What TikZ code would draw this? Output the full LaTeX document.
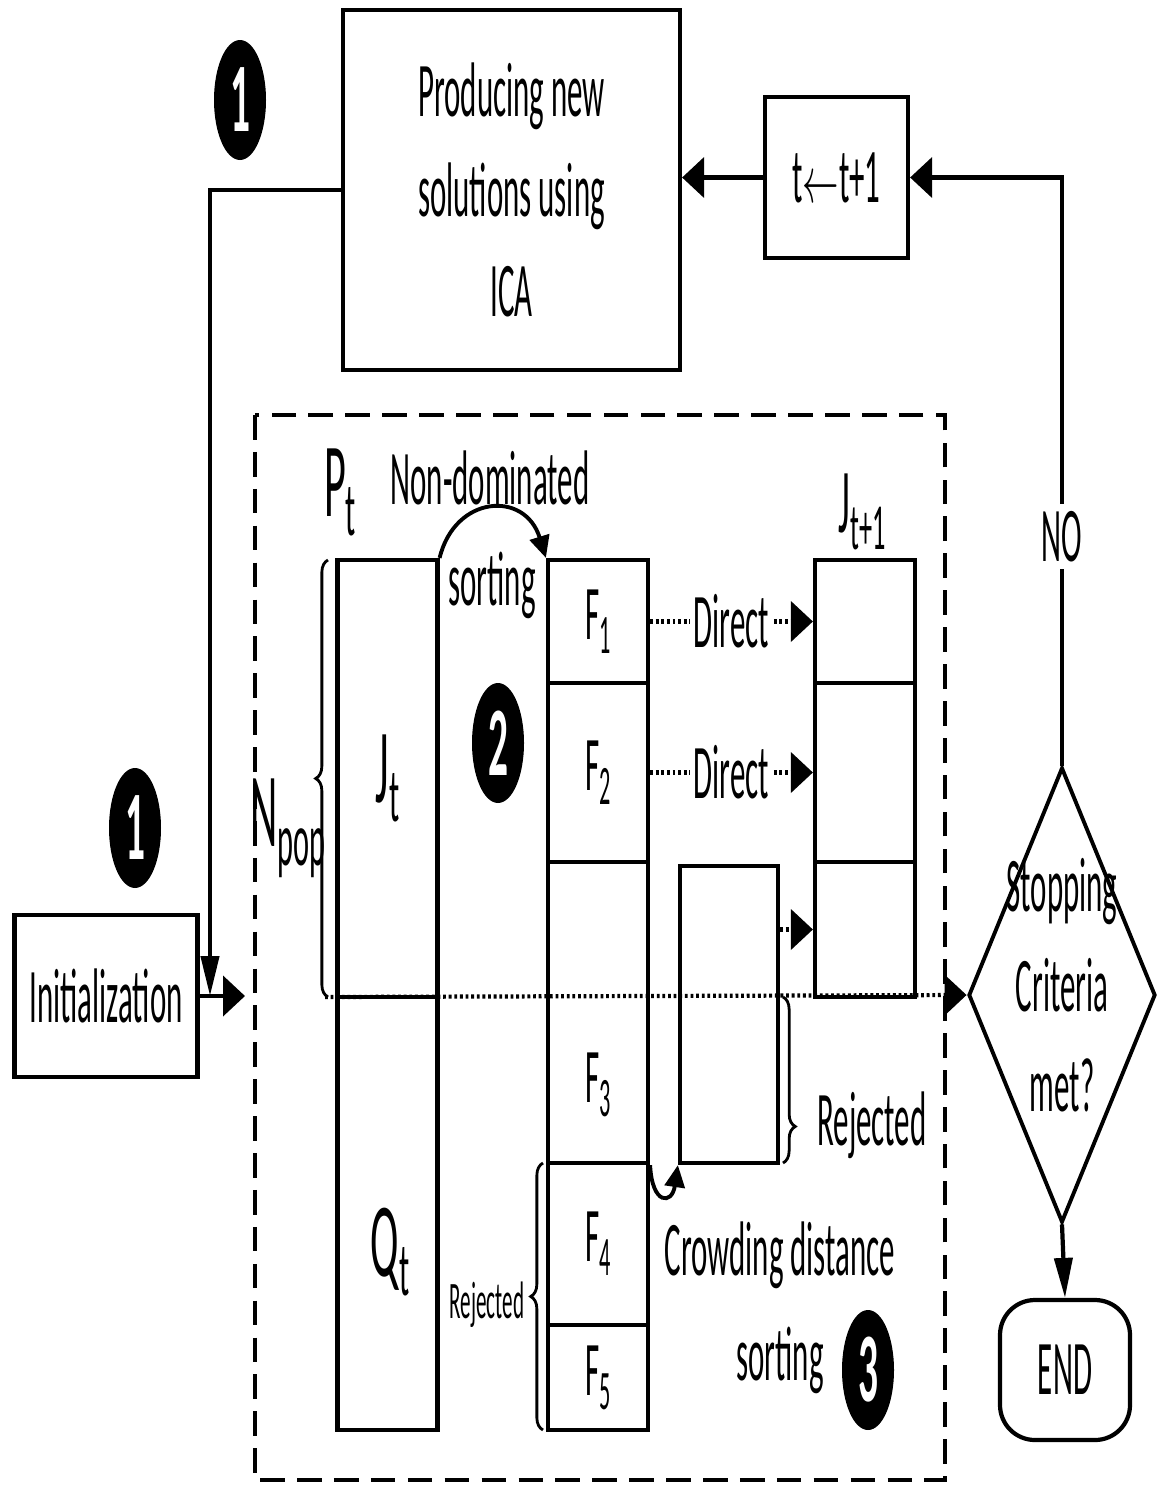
\documentclass[tikz,border=0pt]{standalone}
\usepackage{fontspec}
\setmainfont{Carlito}[FakeStretch=0.40]
\usepackage{graphicx}
\usetikzlibrary{arrows.meta,positioning,shapes.geometric,decorations.pathreplacing}

\newcommand{\lowsub}[1]{\raisebox{-0.18em}{\scalebox{0.72}{#1}}}
\newcommand{\larrow}{\scalebox{0.5}[0.9]{$\leftarrow$}}

\begin{document}
\begin{tikzpicture}[x=0.1mm,y=-0.1mm,
  box/.style={draw,line width=1.2pt,align=center,inner sep=0pt},
  cell/.style={draw,line width=1.2pt,minimum width=1.0cm,inner sep=0pt,font=\fontsize{22}{28.5}\selectfont},
  txt/.style={font=\fontsize{22}{28.5}\selectfont,align=center},
  big/.style={font=\fontsize{30}{34}\selectfont},
  small/.style={font=\fontsize{15}{18}\selectfont},
  num/.style={ellipse,fill=black,text=white,minimum width=0.52cm,minimum height=1.2cm,inner sep=0pt,font=\fontsize{28}{30}\selectfont\bfseries},
  har/.style={line width=1.2pt,-{Triangle[length=2.2mm,width=4mm]}},
  var/.style={line width=1.2pt,-{Triangle[length=4mm,width=1.8mm]}},
  sar/.style={line width=1.1pt,-{Triangle[length=2.2mm,width=2mm]}},
  dot/.style={line width=2pt,dash pattern=on 0.8pt off 0.8pt},
  brc/.style={decorate,decoration={brace,amplitude=3.5pt},line width=0.8pt}]
\useasboundingbox (0,0) rectangle (1159,1488);

% outer loop
\node[box,txt,minimum width=3.37cm,minimum height=3.6cm] (prod) at (511.5,190) {Producing new\\solutions using\\ICA};
\node[box,txt,minimum width=1.43cm,minimum height=1.61cm] (tinc) at (836.5,177.5) {t\larrow t+1};
\node[num] (one) at (240,100) {1};
\node[box,txt,minimum width=1.83cm,minimum height=1.62cm] (init) at (106,996) {Initialization};
\node[num] (oneb) at (135,828) {1};
\coordinate (entry) at (245,996);
\coordinate (drop) at (210,996);

% NSGA-II block
\draw[line width=1.2pt,dash pattern=on 7pt off 3.5pt] (255,415) rectangle (945,1480);
\node[cell,big,minimum height=4.37cm] (jt) at (387.5,778.5) {J\lowsub{t}};
\node[cell,minimum height=4.33cm] (qt) at (387.5,1213.5) {};
\node[cell,minimum height=1.23cm] (f1) at (598,621.5) {F\lowsub{1}};
\node[cell,minimum height=1.79cm] (f2) at (598,772.5) {F\lowsub{2}};
\node[cell,minimum height=3.01cm] (f3) at (598,1012.5) {};
\node[cell,minimum height=1.62cm] (f4) at (598,1244) {F\lowsub{4}};
\node[cell,minimum height=1.05cm] (f5) at (598,1377.5) {F\lowsub{5}};
\node[cell,minimum width=0.98cm,minimum height=2.97cm] (crowd) at (729,1014.5) {};
\node[cell,minimum height=1.23cm] (j1) at (865,621.5) {};
\node[cell,minimum height=1.79cm] (j2) at (865,772.5) {};
\node[cell,minimum height=1.35cm] (j3) at (865,929.5) {};

\node[big] (pt) at (340,492) {P\lowsub{t}};
\node[big] (npop) at (288,828) {N\lowsub{pop}};
\node[big] (qlab) at (390,1252) {Q\lowsub{t}};
\node[font=\fontsize{26}{30}\selectfont] (jnext) at (862,512) {J\lowsub{t+1}};
\node[txt] (f3lab) at (598,1085) {F\lowsub{3}};
\node[txt] (nds) at (490,478) {Non-dominated};
\node[txt] (srt) at (492,585) {sorting};
\node[num] (two) at (498,743) {2};
\node[txt] (rej) at (872,1125) {Rejected};
\node[small] (rejb) at (487,1305) {Rejected};
\node[txt] (crd) at (780,1255) {Crowding distance};
\node[txt] (crs) at (780,1360) {sorting};
\node[num] (three) at (868,1370) {3};

% decision
\node[draw,diamond,line width=1.1pt,minimum width=1.87cm,minimum height=4.55cm,inner sep=0pt] (stop) at (1062,995) {};
\node[txt] (stoptxt) at (1062,985) {Stopping\\Criteria\\met?};
\node[box,txt,rounded corners=0.35cm,minimum width=1.3cm,minimum height=1.4cm] (end) at (1065,1370) {END};
\coordinate (cut) at (325,997);

% connectors
\draw[har] (tinc.west) -- (tinc.west -| prod.east);
\draw[har] (stop.north) -- node[txt,fill=white,pos=0.39,inner sep=2pt] (no) {NO} (stop.north |- tinc.east) -- (tinc.east);
\draw[var] (stop.south) -- (end.north);
\draw[har] (init.east) -- (entry);
\draw[var] (prod.west) -| (drop);
\draw[sar] (jt.north east) .. controls (455,495) and (525,490) .. (f1.north west);
\draw[dot,har] (f1.east) -- node[txt,fill=white,inner sep=1pt] (d1) {Direct} (j1.west);
\draw[dot,har] (f2.east) -- node[txt,fill=white,inner sep=1pt] (d2) {Direct} (j2.west);
\draw[dot,har] (crowd.east |- j3.west) -- (j3.west);
\draw[dot,har] (cut) -- (stop.west);
\draw[sar] (f3.south east) .. controls (652,1205) and (672,1205) .. (crowd.south west);
\draw[brc] (328,997) -- (328,560);
\draw[brc,decoration={aspect=0.78}] (783,997) -- (783,1163);
\draw[brc] (543,1430) -- (543,1163);
\end{tikzpicture}
\end{document}
